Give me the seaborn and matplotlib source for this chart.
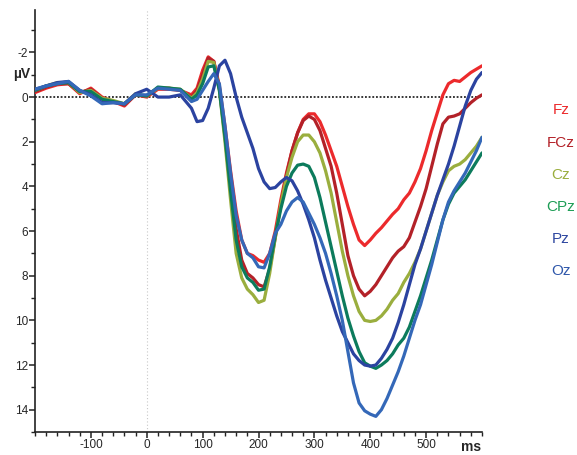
import matplotlib
matplotlib.use('Agg')
import matplotlib.pyplot as plt
import seaborn as sns
import pandas as pd
from matplotlib.ticker import FixedLocator, MultipleLocator

sns.set_style('ticks')
plt.rcParams['font.family'] = ['Liberation Sans', 'DejaVu Sans']
plt.rcParams['axes.unicode_minus'] = False

# time points (ms)
times = [-200, -180, -160, -140, -120, -100, -80, -60, -40, -20, 0, 20, 40, 60, 80,
         90, 100, 110, 120, 130, 140, 150, 160, 170, 180, 190, 200, 210, 220, 230, 240,
         250, 260, 270, 280, 290, 300, 310, 320, 330, 340, 350, 360, 370, 380, 390, 400,
         410, 420, 430, 440, 450, 460, 470, 480, 490, 500, 510, 520, 530, 540, 550, 560,
         570, 580, 590, 600]

# amplitudes (µV, positive plotted downwards)
fz = [-0.2, -0.4, -0.55, -0.6, -0.15, -0.4, 0.0, 0.2, 0.4, -0.1, 0.0, -0.35, -0.35, -0.3, -0.1,
      -0.4, -1.2, -1.8, -1.6, -0.5, 1.3, 3.3, 5.1, 6.4, 7.0, 7.1, 7.3, 7.4, 7.0, 6.0, 4.6,
      3.4, 2.4, 1.6, 1.0, 0.75, 0.75, 1.1, 1.7, 2.4, 3.1, 4.0, 4.9, 5.7, 6.4, 6.65, 6.4,
      6.1, 5.85, 5.55, 5.25, 5.0, 4.6, 4.3, 3.8, 3.2, 2.4, 1.5, 0.7, -0.1, -0.6, -0.75, -0.7,
      -0.9, -1.1, -1.25, -1.4]
fcz = [-0.25, -0.45, -0.6, -0.6, -0.2, -0.35, 0.05, 0.2, 0.35, -0.1, -0.05, -0.4, -0.4, -0.3, 0.0,
       -0.3, -1.0, -1.75, -1.6, -0.4, 1.7, 3.9, 5.9, 7.3, 7.9, 8.1, 8.4, 8.5, 7.7, 6.3, 4.8,
       3.5, 2.4, 1.6, 1.05, 0.85, 1.0, 1.5, 2.3, 3.1, 4.3, 5.7, 7.1, 8.0, 8.6, 8.9, 8.7,
       8.4, 8.0, 7.6, 7.2, 6.9, 6.7, 6.3, 5.6, 4.9, 4.1, 3.1, 2.1, 1.2, 0.9, 0.85, 0.75,
       0.5, 0.25, 0.05, -0.1]
cz = [-0.3, -0.5, -0.65, -0.65, -0.2, -0.3, 0.05, 0.15, 0.3, -0.15, -0.05, -0.4, -0.4, -0.35, 0.05,
      -0.2, -0.8, -1.6, -1.55, -0.3, 2.0, 4.6, 7.0, 8.1, 8.6, 8.85, 9.2, 9.1, 7.9, 6.3, 4.8,
      3.6, 2.7, 2.0, 1.7, 1.7, 2.0, 2.5, 3.3, 4.3, 5.6, 6.9, 8.0, 8.9, 9.6, 10.0, 10.05,
      10.0, 9.8, 9.5, 9.1, 8.8, 8.3, 7.9, 7.4, 6.8, 6.0, 5.2, 4.4, 3.8, 3.3, 3.1, 3.0,
      2.8, 2.5, 2.2, 1.8]
cpz = [-0.3, -0.5, -0.6, -0.65, -0.25, -0.25, 0.1, 0.2, 0.3, -0.1, -0.05, -0.45, -0.4, -0.35, 0.1,
       -0.1, -0.6, -1.35, -1.4, -0.3, 1.8, 4.2, 6.4, 7.6, 8.1, 8.3, 8.65, 8.6, 7.6, 6.2, 5.0,
       4.0, 3.4, 3.05, 3.0, 3.1, 3.6, 4.5, 5.6, 6.7, 7.8, 8.9, 9.9, 10.7, 11.4, 11.9, 12.05,
       12.15, 12.0, 11.8, 11.5, 11.1, 10.8, 10.3, 9.6, 8.9, 8.1, 7.3, 6.4, 5.5, 4.8, 4.3, 4.0,
       3.7, 3.3, 2.9, 2.5]
pz = [-0.35, -0.5, -0.65, -0.7, -0.3, -0.1, 0.25, 0.25, 0.3, -0.15, -0.35, 0.0, 0.0, -0.1, 0.5,
      1.1, 1.05, 0.5, -0.4, -1.4, -1.65, -1.05, 0.0, 0.9, 1.6, 2.3, 3.2, 3.8, 4.1, 4.05, 3.8,
      3.6, 3.75, 4.2, 4.8, 5.5, 6.3, 7.3, 8.2, 9.0, 9.8, 10.5, 11.0, 11.5, 11.8, 12.0, 12.05,
      12.0, 11.7, 11.3, 10.8, 10.1, 9.3, 8.4, 7.5, 6.8, 6.0, 5.2, 4.4, 3.7, 3.0, 2.2, 1.3,
      0.4, -0.3, -0.8, -1.1]
oz = [-0.35, -0.5, -0.6, -0.7, -0.3, -0.05, 0.3, 0.25, 0.3, -0.1, -0.1, -0.4, -0.35, -0.3, 0.2,
      0.1, -0.3, -0.7, -1.05, -0.6, 1.3, 3.4, 5.3, 6.4, 7.0, 7.2, 7.6, 7.65, 7.0, 6.1, 5.7,
      5.1, 4.7, 4.5, 4.7, 5.2, 5.7, 6.3, 7.0, 7.9, 8.9, 10.0, 11.4, 12.8, 13.7, 14.05, 14.2,
      14.3, 14.0, 13.5, 12.9, 12.3, 11.6, 10.8, 10.0, 9.3, 8.4, 7.5, 6.5, 5.5, 4.7, 4.2, 3.8,
      3.4, 2.9, 2.4, 1.8]

channels = ['Fz', 'FCz', 'Cz', 'CPz', 'Pz', 'Oz']
line_colors = {'Fz': '#ec2a2c', 'FCz': '#b32128', 'Cz': '#9aae3e',
               'CPz': '#0c7b5c', 'Pz': '#2b43a0', 'Oz': '#3468b8'}
label_colors = ['#ec2a2c', '#b32128', '#9aae3e', '#1d9d55', '#2e47a0', '#2f57aa']

df = pd.DataFrame({'time': times, 'Fz': fz, 'FCz': fcz, 'Cz': cz,
                   'CPz': cpz, 'Pz': pz, 'Oz': oz})
df = df.melt(id_vars='time', var_name='channel', value_name='uv')

W, H = 577, 455
fig = plt.figure(figsize=(W / 100, H / 100), dpi=100)
ax = fig.add_axes([35 / W, 1 - 432 / H, (482 - 35) / W, (432 - 10) / H])

ax.axvline(0, color='#c8c8c8', ls=(0, (1, 2)), lw=0.8, zorder=1)
ax.axhline(0, color='black', ls=(0, (1.2, 1.2)), lw=1.1, zorder=1)

sns.lineplot(data=df, x='time', y='uv', hue='channel', hue_order=channels,
             palette=line_colors, linewidth=2.3, legend=False, ax=ax, zorder=3,
             solid_joinstyle='round', solid_capstyle='round')

ax.set_xlim(-200, 600)
ax.set_ylim(15, -3.9)
ax.set_xlabel('')
ax.set_ylabel('')
sns.despine(ax=ax)
for side in ['left', 'bottom']:
    ax.spines[side].set_linewidth(1.2)
    ax.spines[side].set_color('#222222')

ax.xaxis.set_major_locator(FixedLocator([-100, 0, 100, 200, 300, 400, 500]))
ax.xaxis.set_minor_locator(MultipleLocator(20))
ax.yaxis.set_major_locator(FixedLocator([-2, 0, 2, 4, 6, 8, 10, 12, 14]))
ax.yaxis.set_minor_locator(FixedLocator([-3, -1, 1, 3, 5, 7, 9, 11, 13, 15]))
ax.tick_params(which='major', direction='out', length=4, width=1.1, color='#222222',
               labelsize=8.5, pad=1)
ax.tick_params(which='minor', direction='out', length=3, width=1.0, color='#222222')

fig.text(22 / W, 1 - 74 / H, 'µV', fontsize=10, fontweight='bold', ha='center', va='center')
fig.text(471 / W, 1 - 447 / H, 'ms', fontsize=10, fontweight='bold', ha='center', va='center')

label_y = [110, 143, 175, 207, 239, 271]
for name, col, yy in zip(channels, label_colors, label_y):
    fig.text(561 / W, 1 - yy / H, name, color=col, fontsize=11, ha='center', va='center')

fig.savefig('out.png', dpi=100)
